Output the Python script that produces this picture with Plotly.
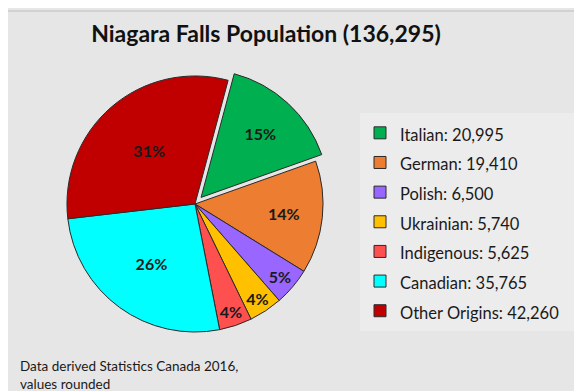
import plotly.graph_objects as go

origins = ["Italian", "German", "Polish", "Ukrainian", "Indigenous", "Canadian", "Other Origins"]
population = [20995, 19410, 6500, 5740, 5625, 35765, 42260]
colors = ["#00B050", "#ED7D31", "#9966FF", "#FFC000", "#FF5050", "#00FFFF", "#C00000"]
pulls = [0.07, 0, 0, 0, 0, 0, 0]

title_text = "Niagara Falls Population (136,295)"
note_text = "Data derived Statistics Canada 2016,<br>values rounded"

FONT = "Lato, 'Open Sans', sans-serif"
W, H = 582, 391

legend_labels = [
    f'<span style="font-size:16.5px">{n}: {v:,}</span>\u00a0\u00a0' for n, v in zip(origins, population)
]

fig = go.Figure(
    go.Pie(
        labels=legend_labels,
        values=population,
        sort=False,
        direction="clockwise",
        rotation=15,
        pull=pulls,
        marker=dict(colors=colors, line=dict(color="#2a2a2a", width=1)),
        texttemplate="%{percent:.0%}",
        textposition="inside",
        insidetextorientation="horizontal",
        textfont=dict(family=FONT, size=16, color="#1a1a1a", weight="bold"),
        domain=dict(x=[50 / W, 324 / W], y=[58 / H, 332 / H]),
        showlegend=True,
    )
)

fig.update_layout(
    width=W,
    height=H,
    margin=dict(l=0, r=0, t=0, b=0),
    paper_bgcolor="#E6E6E6",
    plot_bgcolor="#E6E6E6",
    font=dict(family=FONT, color="#1a1a1a"),
    uniformtext=dict(minsize=16, mode="show"),
    title=dict(
        text=f"<b>{title_text}</b>",
        x=258 / W,
        xanchor="center",
        y=1 - 26 / H,
        yanchor="middle",
        font=dict(family=FONT, size=23, color="#111111"),
    ),
    legend=dict(
        x=352 / W,
        xanchor="left",
        y=1 - 105 / H,
        yanchor="top",
        bgcolor="#ECECEC",
        borderwidth=0,
        font=dict(family=FONT, size=20.5, color="#1a1a1a"),
        traceorder="normal",
    ),
    annotations=[
        dict(
            text=note_text,
            x=10 / W,
            y=1 - 348 / H,
            xref="paper",
            yref="paper",
            xanchor="left",
            yanchor="top",
            align="left",
            showarrow=False,
            font=dict(family=FONT, size=13.5, color="#1a1a1a"),
        )
    ],
    shapes=[
        dict(type="line", xref="paper", yref="paper", x0=0, x1=1, y0=1 - 3 / H, y1=1 - 3 / H,
             line=dict(color="#BDBDBD", width=1))
    ],
)

fig.write_html("out.html")
